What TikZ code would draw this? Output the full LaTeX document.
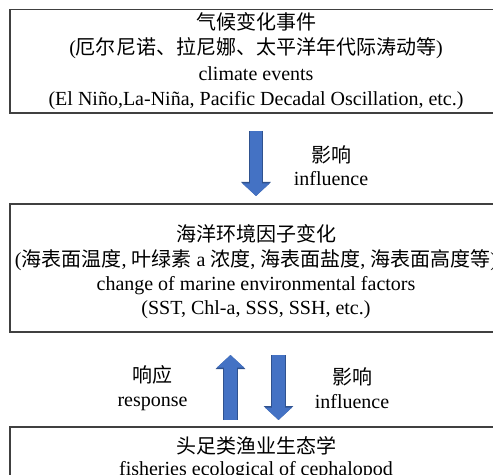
\documentclass[tikz,border=0pt]{standalone}
\usepackage{fontspec}
\setmainfont{Liberation Serif}
\newfontfamily\cjk{Noto Sans CJK SC}
\usetikzlibrary{arrows.meta,calc,positioning}
\definecolor{arrowblue}{HTML}{4472C4}
\definecolor{arrowline}{HTML}{2F528F}

\begin{document}
\begin{tikzpicture}[x=1bp,y=-1bp]
  % Global box and text styles
  \tikzset{
    box/.style      = {draw=black!75, line width=1.3bp, minimum width=492bp, inner sep=0pt, outer sep=0pt, anchor=north west},
    txt/.style      = {align=center, inner sep=0pt, font=\fontsize{20bp}{#1}\selectfont},
    txt/.default    = 25bp,
    arrowedge/.style = {draw=arrowline, line width=14.6bp, -{Triangle[width=29bp,length=14bp]}},
    arrowbody/.style = {draw=arrowblue, line width=12.8bp, -{Triangle[width=26.5bp,length=12.5bp]}}
  }

  % Fixed frame, boxes run past the right and bottom edge
  \useasboundingbox (0,0) rectangle (493,475);
  \clip (0,0) rectangle (493,475);

  % --- Boxes ---
  \node[box, minimum height=103.5bp] (climate) at (10,9.5) {};
  \node[box, minimum height=128bp]   (marine)  at (10,204) {};
  \node[box, minimum height=80bp]    (fishery) at (10,427) {};

  % --- Box texts ---
  \node[txt=25.5bp] (climatetxt) at (256,61)
    {{\cjk 气候变化事件}\\({\cjk 厄尔尼诺、拉尼娜、太平洋年代际涛动等})\\climate events\\(El Niño,La-Niña, Pacific Decadal Oscillation, etc.)};
  \node[txt=24.3bp] (marinetxt) at (256,272)
    {{\cjk 海洋环境因子变化}\\({\cjk 海表面温度}, {\cjk 叶绿素} a {\cjk 浓度}, {\cjk 海表面盐度}, {\cjk 海表面高度等})\\change of marine environmental factors\\(SST, Chl-a, SSS, SSH, etc.)};
  \node[txt=21.5bp] (fisherytxt) at (256,458)
    {{\cjk 头足类渔业生态学}\\fisheries ecological of cephalopod};

  % --- Block arrows between the boxes ---
  \coordinate (a1s) at ($(climate.south)+(0,18)$);
  \coordinate (a1e) at ($(marine.north)+(0,-8)$);
  \coordinate (a2s) at ($(fishery.north)+(-25.5,-7)$);
  \coordinate (a2e) at ($(marine.south)+(-25.5,23)$);
  \coordinate (a3s) at ($(marine.south)+(22.5,23)$);
  \coordinate (a3e) at ($(fishery.north)+(22.5,-7)$);
  \foreach \s/\e in {a1s/a1e, a2s/a2e, a3s/a3e} {
    \draw[arrowedge] (\s) -- (\e);
    \draw[arrowbody] (\s) -- (\e);
  }

  % --- Arrow labels ---
  \node[txt=23bp] (infl1)  at (331,166)   {{\cjk 影响}\\influence};
  \node[txt=24bp] (resp)   at (152.5,388) {{\cjk 响应}\\response};
  \node[txt=24bp] (infl2)  at (352,388)   {{\cjk 影响}\\influence};
\end{tikzpicture}
\end{document}
